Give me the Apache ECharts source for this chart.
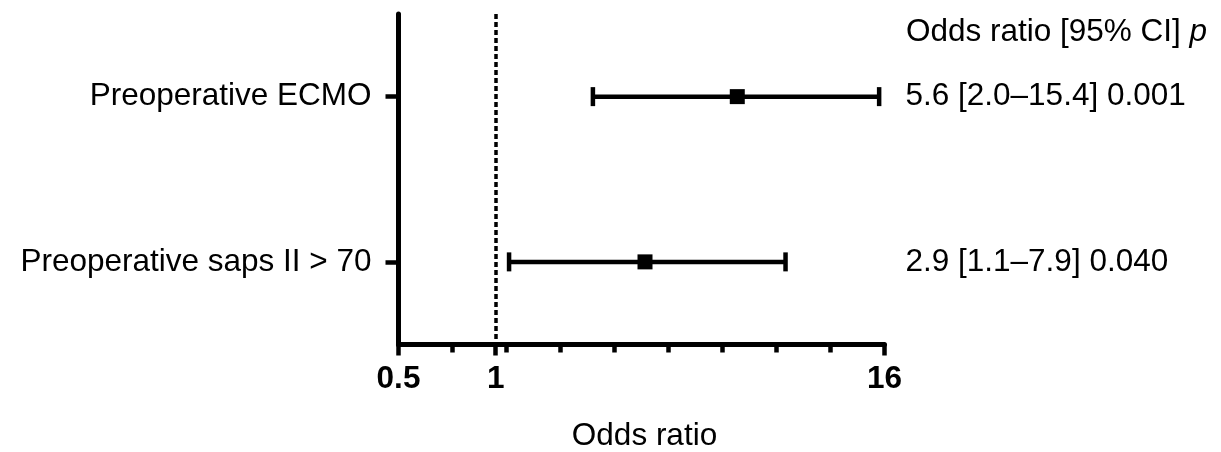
<!DOCTYPE html>
<html>
<head>
<meta charset="utf-8">
<script src="https://cdn.jsdelivr.net/npm/echarts@6/dist/echarts.min.js"></script>
<style>
  html, body { margin: 0; padding: 0; background: #fff; }
  #chart { width: 1221px; height: 452px; }
</style>
</head>
<body>
<div id="chart"></div>
<script>
// ---- data ----
const categories = ['Preoperative ECMO', 'Preoperative saps II > 70'];
const oddsRatio = [5.6, 2.9];
const ciLow = [2.0, 1.1];
const ciHigh = [15.4, 7.9];
const pValues = ['0.001', '0.040'];
const tickValues = [0.5, 1, 16];
const tickLabels = ['0.5', '1', '16'];
const minorTickIntervals = 9;
const referenceValue = 1;
const headerText = 'Odds ratio [95% CI] ';
const headerItalic = 'p';
const xAxisTitle = 'Odds ratio';

// ---- derived ----
const FONT = '"Liberation Sans", Arial, sans-serif';
const FS = 31.5;
const log2 = v => Math.log2(v);
const xMin = log2(tickValues[0]);
const xMax = log2(tickValues[tickValues.length - 1]);
const majorTicks = tickValues.map(log2);
const minorTicks = [];
for (let k = 0; k <= minorTickIntervals; k++) minorTicks.push(xMin + (xMax - xMin) * k / minorTickIntervals);
const fmt1 = v => v.toFixed(1);
const ciText = categories.map((c, i) =>
  fmt1(oddsRatio[i]) + ' [' + fmt1(ciLow[i]) + '\u2013' + fmt1(ciHigh[i]) + '] ' + pValues[i]);
const seriesData = categories.map((c, i) => [log2(ciLow[i]), log2(ciHigh[i]), log2(oddsRatio[i]), i]);

const chart = echarts.init(document.getElementById('chart'), null, { renderer: 'canvas' });
const black = '#000';

chart.setOption({
  animation: false,
  backgroundColor: '#fff',
  title: {
    left: 906, top: 16, padding: 0,
    text: '{a|' + headerText + '}{b|' + headerItalic + '}',
    textStyle: {
      fontWeight: 'normal',
      rich: {
        a: { fontSize: FS, fontFamily: FONT, color: black, fontWeight: 'normal' },
        b: { fontSize: FS, fontFamily: FONT, color: black, fontWeight: 'normal', fontStyle: 'italic' }
      }
    }
  },
  grid: { left: 398.5, right: 336.5, top: 14, bottom: 107.5, containLabel: false, outerBoundsMode: 'none' },
  xAxis: [
    {
      type: 'value', min: xMin, max: xMax, position: 'bottom',
      splitLine: { show: false },
      axisLine: { show: true, onZero: false, lineStyle: { color: black, width: 5 } },
      axisTick: { show: true, customValues: majorTicks, length: 11, lineStyle: { color: black, width: 4.5 } },
      axisLabel: {
        show: true, customValues: majorTicks, margin: 19,
        formatter: v => tickLabels[majorTicks.findIndex(t => Math.abs(t - v) < 1e-6)] || '',
        fontSize: FS, fontWeight: 'bold', fontFamily: FONT, color: black
      },
      name: xAxisTitle, nameLocation: 'middle', nameGap: 76,
      nameTextStyle: { fontSize: FS, fontFamily: FONT, color: black, padding: [0, 0, 0, 6] }
    },
    {
      type: 'value', min: xMin, max: xMax, position: 'bottom',
      splitLine: { show: false },
      axisLine: { show: false, onZero: false },
      axisTick: { show: true, customValues: minorTicks, length: 8, lineStyle: { color: black, width: 4.5 } },
      axisLabel: { show: false }
    }
  ],
  yAxis: [
    {
      type: 'category', data: categories, inverse: true, boundaryGap: true,
      axisLine: { show: true, onZero: false, lineStyle: { color: black, width: 5 } },
      axisTick: { show: true, alignWithLabel: true, length: 13, lineStyle: { color: black, width: 4.5 } },
      axisLabel: { margin: 27, fontSize: FS, fontFamily: FONT, color: black },
      splitLine: { show: false }
    },
    {
      type: 'category', data: categories, inverse: true, boundaryGap: true, position: 'right',
      axisLine: { show: false, onZero: false }, axisTick: { show: false }, splitLine: { show: false },
      axisLabel: {
        margin: 21, align: 'left', fontSize: FS, fontFamily: FONT, color: black,
        formatter: (v, i) => ciText[i]
      }
    }
  ],
  series: [
    {
      type: 'custom',
      xAxisIndex: 0, yAxisIndex: 0,
      data: seriesData,
      encode: { x: [0, 1, 2], y: 3 },
      renderItem: function (params, api) {
        const yv = api.value(3);
        const p0 = api.coord([api.value(0), yv]);
        const p1 = api.coord([api.value(1), yv]);
        const pm = api.coord([api.value(2), yv]);
        const cap = 9.5, sq = 15;
        const st = { stroke: black, lineWidth: 4.5 };
        return {
          type: 'group',
          children: [
            { type: 'line', shape: { x1: p0[0], y1: p0[1], x2: p1[0], y2: p1[1] }, style: st },
            { type: 'line', shape: { x1: p0[0], y1: p0[1] - cap, x2: p0[0], y2: p0[1] + cap }, style: st },
            { type: 'line', shape: { x1: p1[0], y1: p1[1] - cap, x2: p1[0], y2: p1[1] + cap }, style: st },
            { type: 'rect', shape: { x: pm[0] - sq / 2, y: pm[1] - sq / 2, width: sq, height: sq }, style: { fill: black } }
          ]
        };
      }
    },
    {
      type: 'scatter', xAxisIndex: 0, yAxisIndex: 0, data: [],
      markLine: {
        silent: true, symbol: 'none',
        label: { show: false },
        lineStyle: { color: black, width: 3.5, type: [5, 3] },
        data: [{ xAxis: log2(referenceValue) }]
      }
    }
  ]
});
</script>
</body>
</html>
